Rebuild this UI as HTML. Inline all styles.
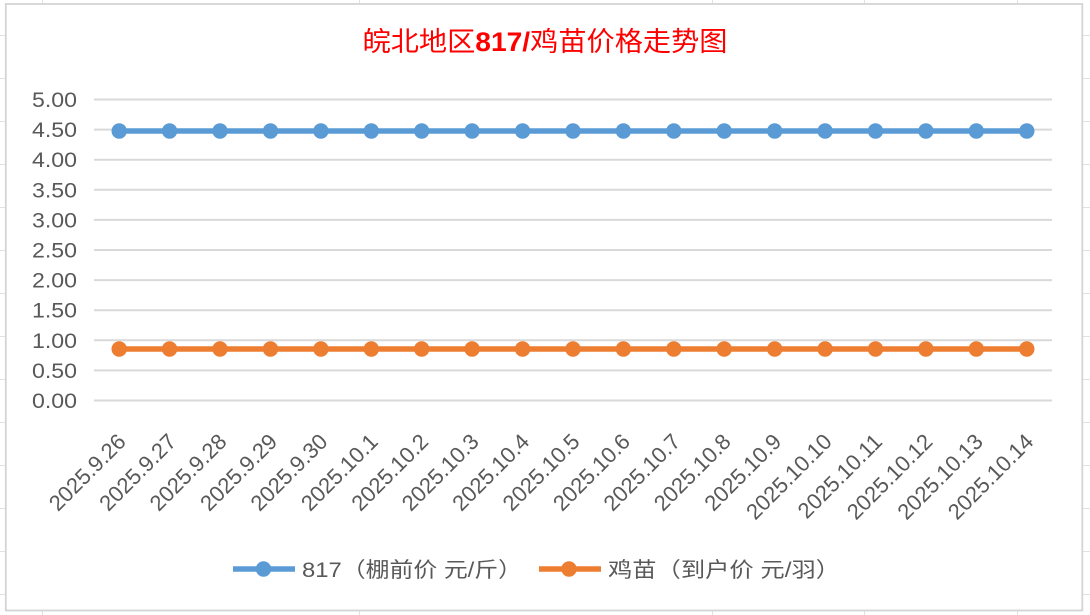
<!DOCTYPE html>
<html><head><meta charset="utf-8"><style>
html,body{margin:0;padding:0;background:#fff;}
svg{display:block;}
text{font-family:"Liberation Sans","Noto Sans CJK SC",sans-serif;}
</style></head><body>
<svg width="1090" height="615" viewBox="0 0 1090 615" xmlns="http://www.w3.org/2000/svg">
<!-- spreadsheet background grid -->
<g stroke="#E1E1E1" stroke-width="1">
<line x1="42.5" y1="0" x2="42.5" y2="615"/>
<line x1="359.5" y1="0" x2="359.5" y2="615"/>
<line x1="712.5" y1="0" x2="712.5" y2="615"/>
<line x1="864.5" y1="0" x2="864.5" y2="615"/>
<line x1="1017.5" y1="0" x2="1017.5" y2="615"/>
<line x1="0" y1="35.5" x2="1090" y2="35.5"/>
<line x1="0" y1="78.5" x2="1090" y2="78.5"/>
<line x1="0" y1="121.5" x2="1090" y2="121.5"/>
<line x1="0" y1="164.5" x2="1090" y2="164.5"/>
<line x1="0" y1="207.5" x2="1090" y2="207.5"/>
<line x1="0" y1="250.5" x2="1090" y2="250.5"/>
<line x1="0" y1="293.5" x2="1090" y2="293.5"/>
<line x1="0" y1="336.5" x2="1090" y2="336.5"/>
<line x1="0" y1="379.5" x2="1090" y2="379.5"/>
<line x1="0" y1="422.5" x2="1090" y2="422.5"/>
<line x1="0" y1="465.5" x2="1090" y2="465.5"/>
<line x1="0" y1="508.5" x2="1090" y2="508.5"/>
<line x1="0" y1="551.5" x2="1090" y2="551.5"/>
<line x1="0" y1="594.5" x2="1090" y2="594.5"/>
</g>
<!-- chart area -->
<rect x="5.8" y="4" width="1076.5" height="606.5" fill="#fff" stroke="#D4D4D4" stroke-width="1.8"/>

<!-- title -->
<text x="545" y="51" text-anchor="middle" font-size="27" fill="#FF0000" textLength="365" lengthAdjust="spacingAndGlyphs">皖北地区<tspan font-weight="bold">817/</tspan>鸡苗价格走势图</text>

<!-- gridlines -->
<g stroke="#D9D9D9" stroke-width="2">
<line x1="94" y1="99.5" x2="1052" y2="99.5"/>
<line x1="94" y1="129.6" x2="1052" y2="129.6"/>
<line x1="94" y1="159.7" x2="1052" y2="159.7"/>
<line x1="94" y1="189.8" x2="1052" y2="189.8"/>
<line x1="94" y1="219.9" x2="1052" y2="219.9"/>
<line x1="94" y1="250" x2="1052" y2="250"/>
<line x1="94" y1="280.1" x2="1052" y2="280.1"/>
<line x1="94" y1="310.2" x2="1052" y2="310.2"/>
<line x1="94" y1="340.3" x2="1052" y2="340.3"/>
<line x1="94" y1="370.4" x2="1052" y2="370.4"/>
<line x1="94" y1="400.5" x2="1052" y2="400.5"/>
</g>

<!-- y labels -->
<g font-size="21" fill="#595959" text-anchor="end">
<text x="77" y="107" textLength="45" lengthAdjust="spacingAndGlyphs">5.00</text>
<text x="77" y="137.1" textLength="45" lengthAdjust="spacingAndGlyphs">4.50</text>
<text x="77" y="167.2" textLength="45" lengthAdjust="spacingAndGlyphs">4.00</text>
<text x="77" y="197.3" textLength="45" lengthAdjust="spacingAndGlyphs">3.50</text>
<text x="77" y="227.4" textLength="45" lengthAdjust="spacingAndGlyphs">3.00</text>
<text x="77" y="257.5" textLength="45" lengthAdjust="spacingAndGlyphs">2.50</text>
<text x="77" y="287.6" textLength="45" lengthAdjust="spacingAndGlyphs">2.00</text>
<text x="77" y="317.7" textLength="45" lengthAdjust="spacingAndGlyphs">1.50</text>
<text x="77" y="347.8" textLength="45" lengthAdjust="spacingAndGlyphs">1.00</text>
<text x="77" y="377.9" textLength="45" lengthAdjust="spacingAndGlyphs">0.50</text>
<text x="77" y="408" textLength="45" lengthAdjust="spacingAndGlyphs">0.00</text>
</g>

<!-- series lines -->
<line x1="119.2" y1="131" x2="1026.8" y2="131" stroke="#5B9BD5" stroke-width="5.5"/>
<line x1="119.2" y1="349" x2="1026.8" y2="349" stroke="#ED7D31" stroke-width="5.5"/>
<g fill="#5B9BD5">
<circle cx="119.2" cy="131" r="7.7"/><circle cx="169.6" cy="131" r="7.7"/><circle cx="220.0" cy="131" r="7.7"/><circle cx="270.5" cy="131" r="7.7"/><circle cx="320.9" cy="131" r="7.7"/><circle cx="371.3" cy="131" r="7.7"/><circle cx="421.7" cy="131" r="7.7"/><circle cx="472.1" cy="131" r="7.7"/><circle cx="522.6" cy="131" r="7.7"/><circle cx="573.0" cy="131" r="7.7"/><circle cx="623.4" cy="131" r="7.7"/><circle cx="673.8" cy="131" r="7.7"/><circle cx="724.2" cy="131" r="7.7"/><circle cx="774.7" cy="131" r="7.7"/><circle cx="825.1" cy="131" r="7.7"/><circle cx="875.5" cy="131" r="7.7"/><circle cx="925.9" cy="131" r="7.7"/><circle cx="976.3" cy="131" r="7.7"/><circle cx="1026.8" cy="131" r="7.7"/>
</g>
<g fill="#ED7D31">
<circle cx="119.2" cy="349" r="7.7"/><circle cx="169.6" cy="349" r="7.7"/><circle cx="220.0" cy="349" r="7.7"/><circle cx="270.5" cy="349" r="7.7"/><circle cx="320.9" cy="349" r="7.7"/><circle cx="371.3" cy="349" r="7.7"/><circle cx="421.7" cy="349" r="7.7"/><circle cx="472.1" cy="349" r="7.7"/><circle cx="522.6" cy="349" r="7.7"/><circle cx="573.0" cy="349" r="7.7"/><circle cx="623.4" cy="349" r="7.7"/><circle cx="673.8" cy="349" r="7.7"/><circle cx="724.2" cy="349" r="7.7"/><circle cx="774.7" cy="349" r="7.7"/><circle cx="825.1" cy="349" r="7.7"/><circle cx="875.5" cy="349" r="7.7"/><circle cx="925.9" cy="349" r="7.7"/><circle cx="976.3" cy="349" r="7.7"/><circle cx="1026.8" cy="349" r="7.7"/>
</g>

<!-- x labels -->
<g font-size="22" fill="#595959" text-anchor="end">
<text x="127.2" y="443" transform="rotate(-45 127.2 443)">2025.9.26</text>
<text x="177.6" y="443" transform="rotate(-45 177.6 443)">2025.9.27</text>
<text x="228.0" y="443" transform="rotate(-45 228.0 443)">2025.9.28</text>
<text x="278.5" y="443" transform="rotate(-45 278.5 443)">2025.9.29</text>
<text x="328.9" y="443" transform="rotate(-45 328.9 443)">2025.9.30</text>
<text x="379.3" y="443" transform="rotate(-45 379.3 443)">2025.10.1</text>
<text x="429.7" y="443" transform="rotate(-45 429.7 443)">2025.10.2</text>
<text x="480.1" y="443" transform="rotate(-45 480.1 443)">2025.10.3</text>
<text x="530.6" y="443" transform="rotate(-45 530.6 443)">2025.10.4</text>
<text x="581.0" y="443" transform="rotate(-45 581.0 443)">2025.10.5</text>
<text x="631.4" y="443" transform="rotate(-45 631.4 443)">2025.10.6</text>
<text x="681.8" y="443" transform="rotate(-45 681.8 443)">2025.10.7</text>
<text x="732.2" y="443" transform="rotate(-45 732.2 443)">2025.10.8</text>
<text x="782.7" y="443" transform="rotate(-45 782.7 443)">2025.10.9</text>
<text x="833.1" y="443" transform="rotate(-45 833.1 443)">2025.10.10</text>
<text x="883.5" y="443" transform="rotate(-45 883.5 443)">2025.10.11</text>
<text x="933.9" y="443" transform="rotate(-45 933.9 443)">2025.10.12</text>
<text x="984.3" y="443" transform="rotate(-45 984.3 443)">2025.10.13</text>
<text x="1034.8" y="443" transform="rotate(-45 1034.8 443)">2025.10.14</text>
</g>

<!-- legend -->
<line x1="233" y1="569" x2="295" y2="569" stroke="#5B9BD5" stroke-width="5.5"/>
<circle cx="263.5" cy="569" r="7.7" fill="#5B9BD5"/>
<text x="302" y="577" font-size="21" fill="#595959" textLength="220" lengthAdjust="spacingAndGlyphs">817（棚前价 元/斤）</text>
<line x1="539" y1="569" x2="601" y2="569" stroke="#ED7D31" stroke-width="5.5"/>
<circle cx="569" cy="569" r="7.7" fill="#ED7D31"/>
<text x="608" y="577" font-size="21" fill="#595959" textLength="232" lengthAdjust="spacingAndGlyphs">鸡苗（到户价 元/羽）</text>
</svg>
</body></html>
